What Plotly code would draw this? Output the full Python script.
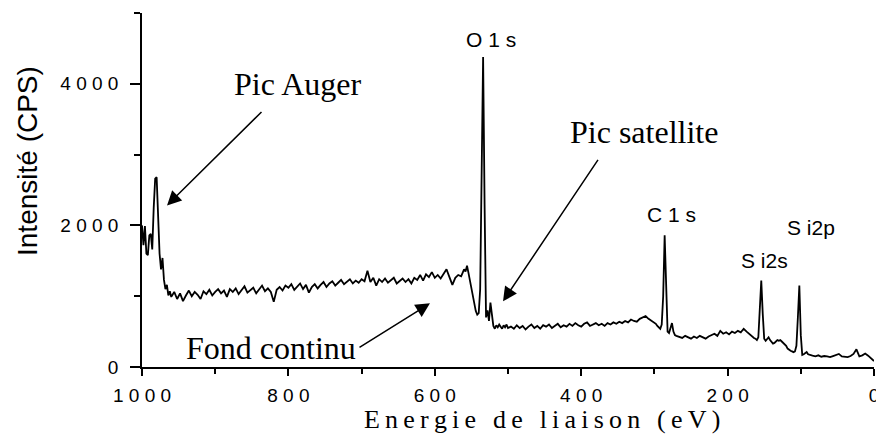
import numpy as np
import plotly.graph_objects as go

# ---- data ----
# each segment: start energy, step (eV), intensities (CPS)
seg_auger = (1000, 2, [2000, 1720, 1990, 1600, 1580, 1860, 1880, 1660, 2250, 2660,
                       2680, 2150, 1600, 1380, 1540, 1230, 1100, 1160, 1010, 1070])
seg_bg1 = (960, 4, [990, 1060, 960, 1040, 930, 1010, 1080, 1000, 1060, 1020,
                    960, 1070, 1030, 1090, 1010, 1060, 1100, 1040, 1080, 990,
                    1100, 1060, 1110, 1030, 1090, 1140, 1050, 1080, 1120, 1040,
                    1100, 1150, 1070, 1110, 1060, 920, 1090, 1130, 1080, 1150,
                    1120, 1170, 1090, 1140, 1180, 1100, 1160, 1050, 1130, 1170,
                    1110, 1160, 1200, 1130, 1180, 1210, 1150, 1190, 1230, 1170,
                    1200, 1240, 1180, 1220, 1190, 1240, 1210, 1360, 1200, 1260,
                    1150, 1240, 1200, 1250, 1190, 1230, 1260, 1180, 1220, 1250,
                    1200, 1240, 1180, 1260, 1230, 1300, 1220, 1310, 1270, 1340,
                    1260, 1300, 1250, 1320, 1380, 1270, 1160, 1260, 1300, 1280])
seg_o1s = (562, 2, [1330, 1380, 1350, 1430, 1330, 1220, 1100, 970, 900, 790,
                    740, 760, 1100, 2600, 4380, 2300, 700, 800, 650, 910,
                    700, 580, 540, 590, 560, 600, 570, 540, 590, 560, 600, 550])
seg_bg2 = (496, 4, [570, 540, 590, 550, 580, 530, 570, 600, 550, 580,
                    540, 590, 570, 600, 550, 580, 610, 560, 590, 570,
                    610, 580, 620, 590, 570, 610, 630, 580, 600, 620,
                    590, 610, 580, 620, 600, 630, 610, 640, 620, 650,
                    630, 670, 650, 640, 680, 700, 720, 680, 650, 630])
seg_c1s = (298, 2, [610, 580, 560, 540, 600, 1000, 1860, 1000, 500, 480,
                    560, 620, 500, 450, 440])
seg_bg3 = (266, 4, [430, 410, 440, 420, 400, 430, 410, 440, 420, 400,
                    430, 450, 470, 440, 510, 470, 490, 460, 500, 480,
                    510, 490, 540, 500, 460])
seg_si = (168, 2, [450, 430, 410, 400, 380, 420, 800, 1220, 750, 400,
                   370, 390, 420, 380, 350, 330, 340, 360, 380, 370,
                   380, 360, 340, 330, 300, 260, 240, 230, 220, 210,
                   220, 300, 700, 1150, 450, 170, 180, 200, 210, 180, 170])
seg_bg4 = (84, 4, [160, 150, 165, 145, 155, 150, 140, 155, 165, 185,
                   150, 145, 140, 155, 185, 250, 150, 165, 190, 160, 120, 85])

segments = [seg_auger, seg_bg1, seg_o1s, seg_bg2, seg_c1s, seg_bg3, seg_si, seg_bg4]

energy = []
counts = []
for start, step, vals in segments:
    energy.extend(list(start - step * np.arange(len(vals))))
    counts.extend(vals)

x_tickvals = [1000, 800, 600, 400, 200, 0]
x_ticktext = ["1 0 0 0", "8 0 0", "6 0 0", "4 0 0", "2 0 0", "0"]
y_tickvals = [0, 2000, 4000]
y_ticktext = ["0", "2 0 0 0", "4 0 0 0"]

peak_labels = ["O 1 s", "C 1 s", "S i2s", "S i2p"]
peak_pos = [(523, 4620), (277, 2160), (149, 1510), (86, 1965)]

# ---- geometry helpers (pixel layout) ----
W, H = 876, 439
ML, MR, MT, MB = 142, 2, 13, 72
PW, PH = W - ML - MR, H - MT - MB

def px(xp):
    return (xp - ML) / PW

def py(yp):
    return (H - MB - yp) / PH

SERIF = "Liberation Serif, Times New Roman, serif"
SANS = "Liberation Sans, Arial, sans-serif"

fig = go.Figure()
fig.add_trace(go.Scatter(x=energy, y=counts, mode="lines",
                         line=dict(color="black", width=1.8),
                         hoverinfo="skip", showlegend=False, cliponaxis=False))

annotations = []
for txt, (ex, iy) in zip(peak_labels, peak_pos):
    annotations.append(dict(x=ex, y=iy, xref="x", yref="y", text=txt,
                            showarrow=False, font=dict(family=SANS, size=21, color="black"),
                            xanchor="center", yanchor="middle"))

def text_ann(txt, xp, yp, size=32, family=SERIF, angle=0):
    return dict(x=px(xp), y=py(yp), xref="paper", yref="paper", text=txt,
                showarrow=False, textangle=angle,
                font=dict(family=family, size=size, color="black"),
                xanchor="center", yanchor="middle")

annotations.append(text_ann("Pic Auger", 297, 84))
annotations.append(text_ann("Pic satellite", 644, 132))
annotations.append(text_ann("Fond continu", 271, 348))

# arrows (tail -> tip) in data coords
arrows = [((834.7, 3623), (965.8, 2282)),
          ((375.7, 2946), (506.8, 927)),
          ((704.9, 264), (606.6, 899))]
for (tx, ty), (hx, hy) in arrows:
    annotations.append(dict(x=hx, y=hy, ax=tx, ay=ty, xref="x", yref="y",
                            axref="x", ayref="y", text="", showarrow=True,
                            arrowhead=2, arrowsize=1.9, arrowwidth=1.5,
                            arrowcolor="black", standoff=0, startstandoff=0))

thin = "\u2009"
xtitle = thin.join(list("Energie de liaison (eV)"))
annotations.append(text_ann(xtitle, 542, 419, size=26))
annotations.append(text_ann("Intensité (CPS)", 27, 161, size=28, family=SANS, angle=-90))

fig.update_layout(
    width=W, height=H,
    margin=dict(l=ML, r=MR, t=MT, b=MB, pad=0, autoexpand=False),
    paper_bgcolor="white", plot_bgcolor="white",
    annotations=annotations,
    showlegend=False,
)
fig.update_xaxes(range=[1000, 0], showgrid=False, zeroline=False, automargin=False,
                 showline=True, linecolor="black", linewidth=1.5,
                 ticks="outside", ticklen=7, tickwidth=1.5, tickcolor="black",
                 tickvals=x_tickvals, ticktext=x_ticktext,
                 tickfont=dict(family=SANS, size=19, color="black"),
                 ticklabelstandoff=3, ticklabeloverflow="allow",
                 minor=dict(tickvals=[900, 700, 500, 300, 100], ticks="outside",
                            ticklen=5, tickwidth=1.5, tickcolor="black"))
fig.update_yaxes(range=[0, 5000], showgrid=False, zeroline=False, automargin=False,
                 showline=True, linecolor="black", linewidth=1.5,
                 ticks="outside", ticklen=10, tickwidth=1.5, tickcolor="black",
                 tickvals=y_tickvals, ticktext=y_ticktext,
                 tickfont=dict(family=SANS, size=19, color="black"),
                 ticklabelstandoff=8, ticklabeloverflow="allow",
                 minor=dict(tickvals=[1000, 3000, 5000], ticks="outside",
                            ticklen=6, tickwidth=1.5, tickcolor="black"))

fig.write_html("out.html", config={"displayModeBar": False},
               post_script="document.body.style.margin='0';document.body.style.padding='0';")
